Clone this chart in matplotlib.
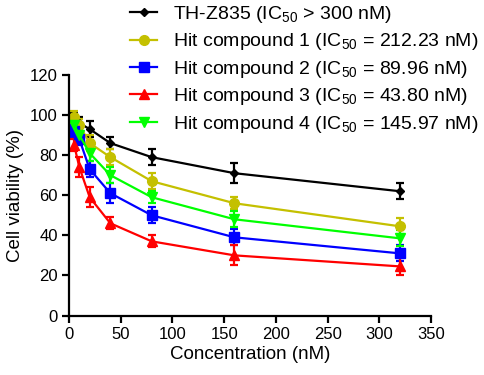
import matplotlib
matplotlib.use("Agg")
import matplotlib.pyplot as plt

plt.rcParams['font.family'] = ['Liberation Sans', 'DejaVu Sans']
plt.rcParams['mathtext.fontset'] = 'custom'
plt.rcParams['mathtext.rm'] = 'Liberation Sans'
plt.rcParams['mathtext.it'] = 'Liberation Sans'

conc = [5, 10, 20, 40, 80, 160, 320]

names = ["TH-Z835 (IC$_{50}$ > 300 nM)",
         "Hit compound 1 (IC$_{50}$ = 212.23 nM)",
         "Hit compound 2 (IC$_{50}$ = 89.96 nM)",
         "Hit compound 3 (IC$_{50}$ = 43.80 nM)",
         "Hit compound 4 (IC$_{50}$ = 145.97 nM)"]

thz835 = [98, 96, 93, 86, 79, 71, 62]
hit1 = [99, 95, 86, 79, 67, 56, 44.5]
hit2 = [92, 88, 73, 61, 50, 39, 31]
hit3 = [85, 74, 59, 46, 37, 30, 24.5]
hit4 = [95, 90, 81, 70, 59, 48, 38.5]

thz835_err = [3, 3, 4, 3, 4, 5, 4]
hit1_err = [3, 3, 4, 4, 4, 3, 4]
hit2_err = [3, 3, 4, 5, 4, 4, 4]
hit3_err = [3, 5, 5, 3, 3, 5, 4.5]
hit4_err = [3, 3, 4, 4, 3, 4, 4]

series = [thz835, hit1, hit2, hit3, hit4]
errs = [thz835_err, hit1_err, hit2_err, hit3_err, hit4_err]
colors = ['black', '#C4C000', '#0000FF', '#FF0000', '#00FF00']
markers = ['D', 'o', 's', '^', 'v']
msizes = [4.5, 7, 6.5, 7, 7]

fig = plt.figure(figsize=(4.84, 3.75), dpi=100)
ax = fig.add_axes([69/484, 1-315.5/375, 362/484, 240.5/375])

handles = []
for vals, er, c, m, ms, lab in zip(series, errs, colors, markers, msizes, names):
    h = ax.errorbar(conc, vals, yerr=er, color=c, marker=m, markersize=ms,
                    linewidth=1.6, elinewidth=1.6, capsize=3.2, capthick=1.6,
                    label=lab, clip_on=False)
    handles.append(h.lines[0])

ax.set_xlim(0, 350)
ax.set_ylim(0, 120)
ax.set_xticks(range(0, 351, 50))
ax.set_yticks(range(0, 121, 20))
for s in ['top', 'right']:
    ax.spines[s].set_visible(False)
for s in ['left', 'bottom']:
    ax.spines[s].set_linewidth(1.6)
ax.tick_params(width=1.6, length=5, labelsize=12, direction='out', pad=3)
ax.set_xlabel("Concentration (nM)", fontsize=13.5, labelpad=3)
ax.set_ylabel("Cell viability (%)", fontsize=13.5, labelpad=4)

fig.legend(handles=handles, labels=names, loc='upper left',
           bbox_to_anchor=(129/484, 1 - 3/375),
           bbox_transform=fig.transFigure, frameon=False, fontsize=14,
           borderpad=0.05, borderaxespad=0, handlelength=1.4, handletextpad=0.8,
           labelspacing=0.33)

fig.savefig("out.png", dpi=100)
